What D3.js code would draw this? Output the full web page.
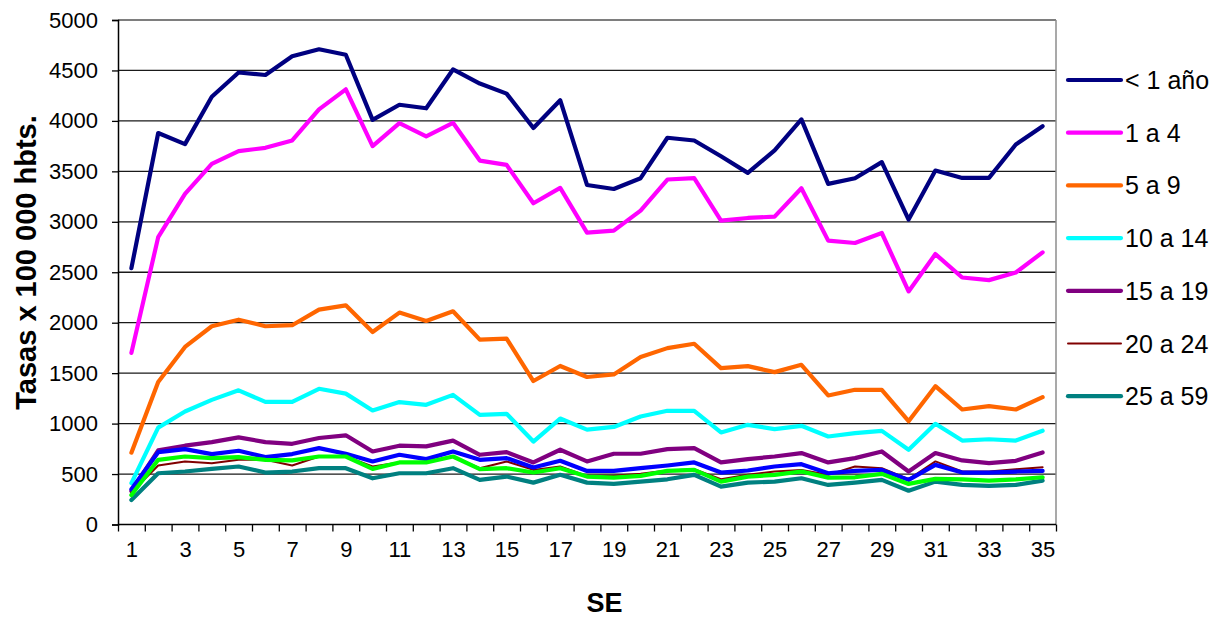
<!DOCTYPE html>
<html>
<head>
<meta charset="utf-8">
<script src="https://cdn.jsdelivr.net/npm/d3@7"></script>
<style>
  html, body { margin: 0; padding: 0; background: #fff; }
  svg { display: block; font-family: "Liberation Sans", Arial, sans-serif; }
</style>
</head>
<body>
<svg id="chart" width="1226" height="619"></svg>
<script>
// ---- Data ----
const weeks = d3.range(1, 36); // SE 1..35
const xTickLabels = [1, 3, 5, 7, 9, 11, 13, 15, 17, 19, 21, 23, 25, 27, 29, 31, 33, 35];
const yTickValues = [0, 500, 1000, 1500, 2000, 2500, 3000, 3500, 4000, 4500, 5000];

const menos1 = [2540, 3880, 3770, 4240, 4480, 4455, 4640, 4710, 4655, 4010, 4160, 4125, 4510, 4370, 4270, 3930, 4205, 3365, 3325, 3432, 3833, 3806, 3650, 3485, 3708, 4015, 3376, 3432, 3591, 3022, 3508, 3435, 3435, 3766, 3948];
const a1a4 = [1701, 2848, 3276, 3574, 3700, 3733, 3806, 4114, 4313, 3750, 3978, 3846, 3981, 3607, 3564, 3184, 3336, 2893, 2912, 3111, 3419, 3432, 3011, 3038, 3051, 3333, 2813, 2790, 2889, 2310, 2680, 2448, 2422, 2498, 2697];
const a5a9 = [712, 1413, 1760, 1965, 2030, 1965, 1975, 2130, 2172, 1908, 2100, 2017, 2113, 1832, 1842, 1422, 1571, 1462, 1487, 1659, 1748, 1791, 1550, 1570, 1510, 1583, 1279, 1335, 1335, 1024, 1371, 1140, 1173, 1140, 1262];
const a10a14 = [410, 960, 1120, 1235, 1330, 1215, 1215, 1345, 1297, 1130, 1213, 1186, 1285, 1087, 1097, 822, 1050, 940, 967, 1070, 1127, 1127, 912, 988, 945, 978, 872, 905, 928, 740, 998, 832, 845, 832, 930];
const a15a19 = [330, 734, 781, 817, 864, 817, 800, 857, 884, 724, 781, 774, 831, 691, 717, 615, 741, 625, 701, 701, 747, 757, 615, 648, 674, 708, 615, 658, 724, 525, 708, 635, 608, 631, 714];
const a20a24 = [320, 585, 625, 608, 641, 641, 585, 674, 674, 575, 615, 615, 674, 558, 625, 541, 575, 482, 482, 502, 535, 548, 448, 492, 525, 541, 492, 575, 558, 448, 625, 525, 525, 548, 568];
const a25a59 = [242, 508, 525, 551, 575, 515, 525, 558, 558, 458, 508, 508, 558, 442, 475, 415, 492, 415, 402, 425, 448, 492, 375, 415, 425, 458, 392, 415, 442, 335, 425, 392, 382, 392, 435];
const a60mas = [349, 717, 747, 698, 731, 668, 698, 757, 701, 625, 691, 648, 724, 641, 658, 565, 631, 531, 531, 558, 585, 615, 515, 535, 575, 598, 508, 531, 541, 442, 591, 515, 515, 525, 531];
const total = [292, 641, 674, 658, 668, 641, 635, 674, 674, 551, 615, 615, 674, 548, 558, 515, 558, 475, 465, 482, 531, 541, 425, 475, 492, 525, 465, 468, 502, 402, 452, 448, 435, 448, 468];

const seriesNames = ["< 1 año", "1 a 4", "5 a 9", "10 a 14", "15 a 19", "20 a 24", "25 a 59", "60 y más", "Total"];
const seriesColors = ["#000080", "#FF00FF", "#FF6600", "#00FFFF", "#800080", "#800000", "#008080", "#0000FF", "#00FF00"];
const seriesValues = [menos1, a1a4, a5a9, a10a14, a15a19, a20a24, a25a59, a60mas, total];
const legendCount = 7;

// ---- Layout ----
const svg = d3.select("#chart");
const pLeft = 118, pRight = 1056, pTop = 20, pBottom = 524.5;

const x = d3.scaleLinear().domain([0.5, 35.5]).range([pLeft, pRight]);
const y = d3.scaleLinear().domain([0, 5000]).range([pBottom, pTop]);

// gridlines
svg.append("g")
  .selectAll("line")
  .data(yTickValues.filter(v => v > 0))
  .join("line")
  .attr("x1", pLeft).attr("x2", pRight)
  .attr("y1", d => y(d)).attr("y2", d => y(d))
  .attr("stroke", "#1a1a1a").attr("stroke-width", 1.3);

// plot border (right & top) in gray
svg.append("line").attr("x1", pRight).attr("x2", pRight).attr("y1", pTop).attr("y2", pBottom)
  .attr("stroke", "#8c8c8c").attr("stroke-width", 1.5);
svg.append("line").attr("x1", pLeft).attr("x2", pRight).attr("y1", pTop).attr("y2", pTop)
  .attr("stroke", "#8c8c8c").attr("stroke-width", 1.5);

// y axis
const yAxis = svg.append("g")
  .attr("transform", `translate(${pLeft},0)`)
  .call(d3.axisLeft(y).tickValues(yTickValues).tickSize(6).tickPadding(14).tickFormat(d3.format("d")));
yAxis.select(".domain").attr("stroke", "#000").attr("stroke-width", 1.5);
yAxis.selectAll(".tick line").attr("stroke", "#000").attr("stroke-width", 1.3);
yAxis.selectAll("text").attr("font-size", 22).attr("fill", "#000")
  .attr("font-family", "'Liberation Sans', Arial, sans-serif");

// x axis ticks (between categories)
const xAxis = svg.append("g")
  .attr("transform", `translate(0,${pBottom})`)
  .call(d3.axisBottom(x).tickValues(d3.range(0.5, 36, 1)).tickSize(7).tickFormat(""));
xAxis.select(".domain").attr("stroke", "#000").attr("stroke-width", 1.5).attr("d", `M${pLeft},0H${pRight}`);
xAxis.selectAll(".tick line").attr("stroke", "#000").attr("stroke-width", 1.3);

// x labels
const xLab = svg.append("g")
  .attr("transform", `translate(0,${pBottom})`)
  .call(d3.axisBottom(x).tickValues(xTickLabels).tickSize(0).tickPadding(17).tickFormat(d3.format("d")));
xLab.select(".domain").remove();
xLab.selectAll("text").attr("font-size", 22).attr("fill", "#000")
  .attr("font-family", "'Liberation Sans', Arial, sans-serif");

// lines
const line = d3.line().x((d, i) => x(weeks[i])).y(d => y(d));
svg.append("g")
  .selectAll("path")
  .data(seriesValues.map((v, i) => ({ v, i })))
  .join("path")
  .attr("d", d => line(d.v))
  .attr("fill", "none")
  .attr("stroke", d => seriesColors[d.i])
  .attr("stroke-width", d => d.i === 5 ? 2 : 4.2)
  .attr("stroke-linejoin", "round")
  .attr("stroke-linecap", "round");

// axis titles
svg.append("text")
  .attr("transform", `translate(36,262.5) rotate(-90)`)
  .attr("text-anchor", "middle")
  .attr("font-size", 29).attr("font-weight", "bold")
  .text("Tasas x 100 000 hbts.");
svg.append("text")
  .attr("x", 604.5).attr("y", 612)
  .attr("text-anchor", "middle")
  .attr("font-size", 27).attr("font-weight", "bold")
  .text("SE");

// legend
const lg = svg.append("g");
const lgItems = lg.selectAll("g")
  .data(d3.range(legendCount))
  .join("g")
  .attr("transform", i => `translate(1068,${80 + i * 52.7})`);
lgItems.append("line")
  .attr("x1", 0).attr("x2", 53).attr("y1", 0).attr("y2", 0)
  .attr("stroke", i => seriesColors[i])
  .attr("stroke-width", i => i === 5 ? 2 : 4.2)
  .attr("stroke-linecap", "round");
lgItems.append("text")
  .attr("x", 57).attr("y", 0)
  .attr("dominant-baseline", "central")
  .attr("font-size", 25)
  .text(i => seriesNames[i]);
</script>
</body>
</html>
